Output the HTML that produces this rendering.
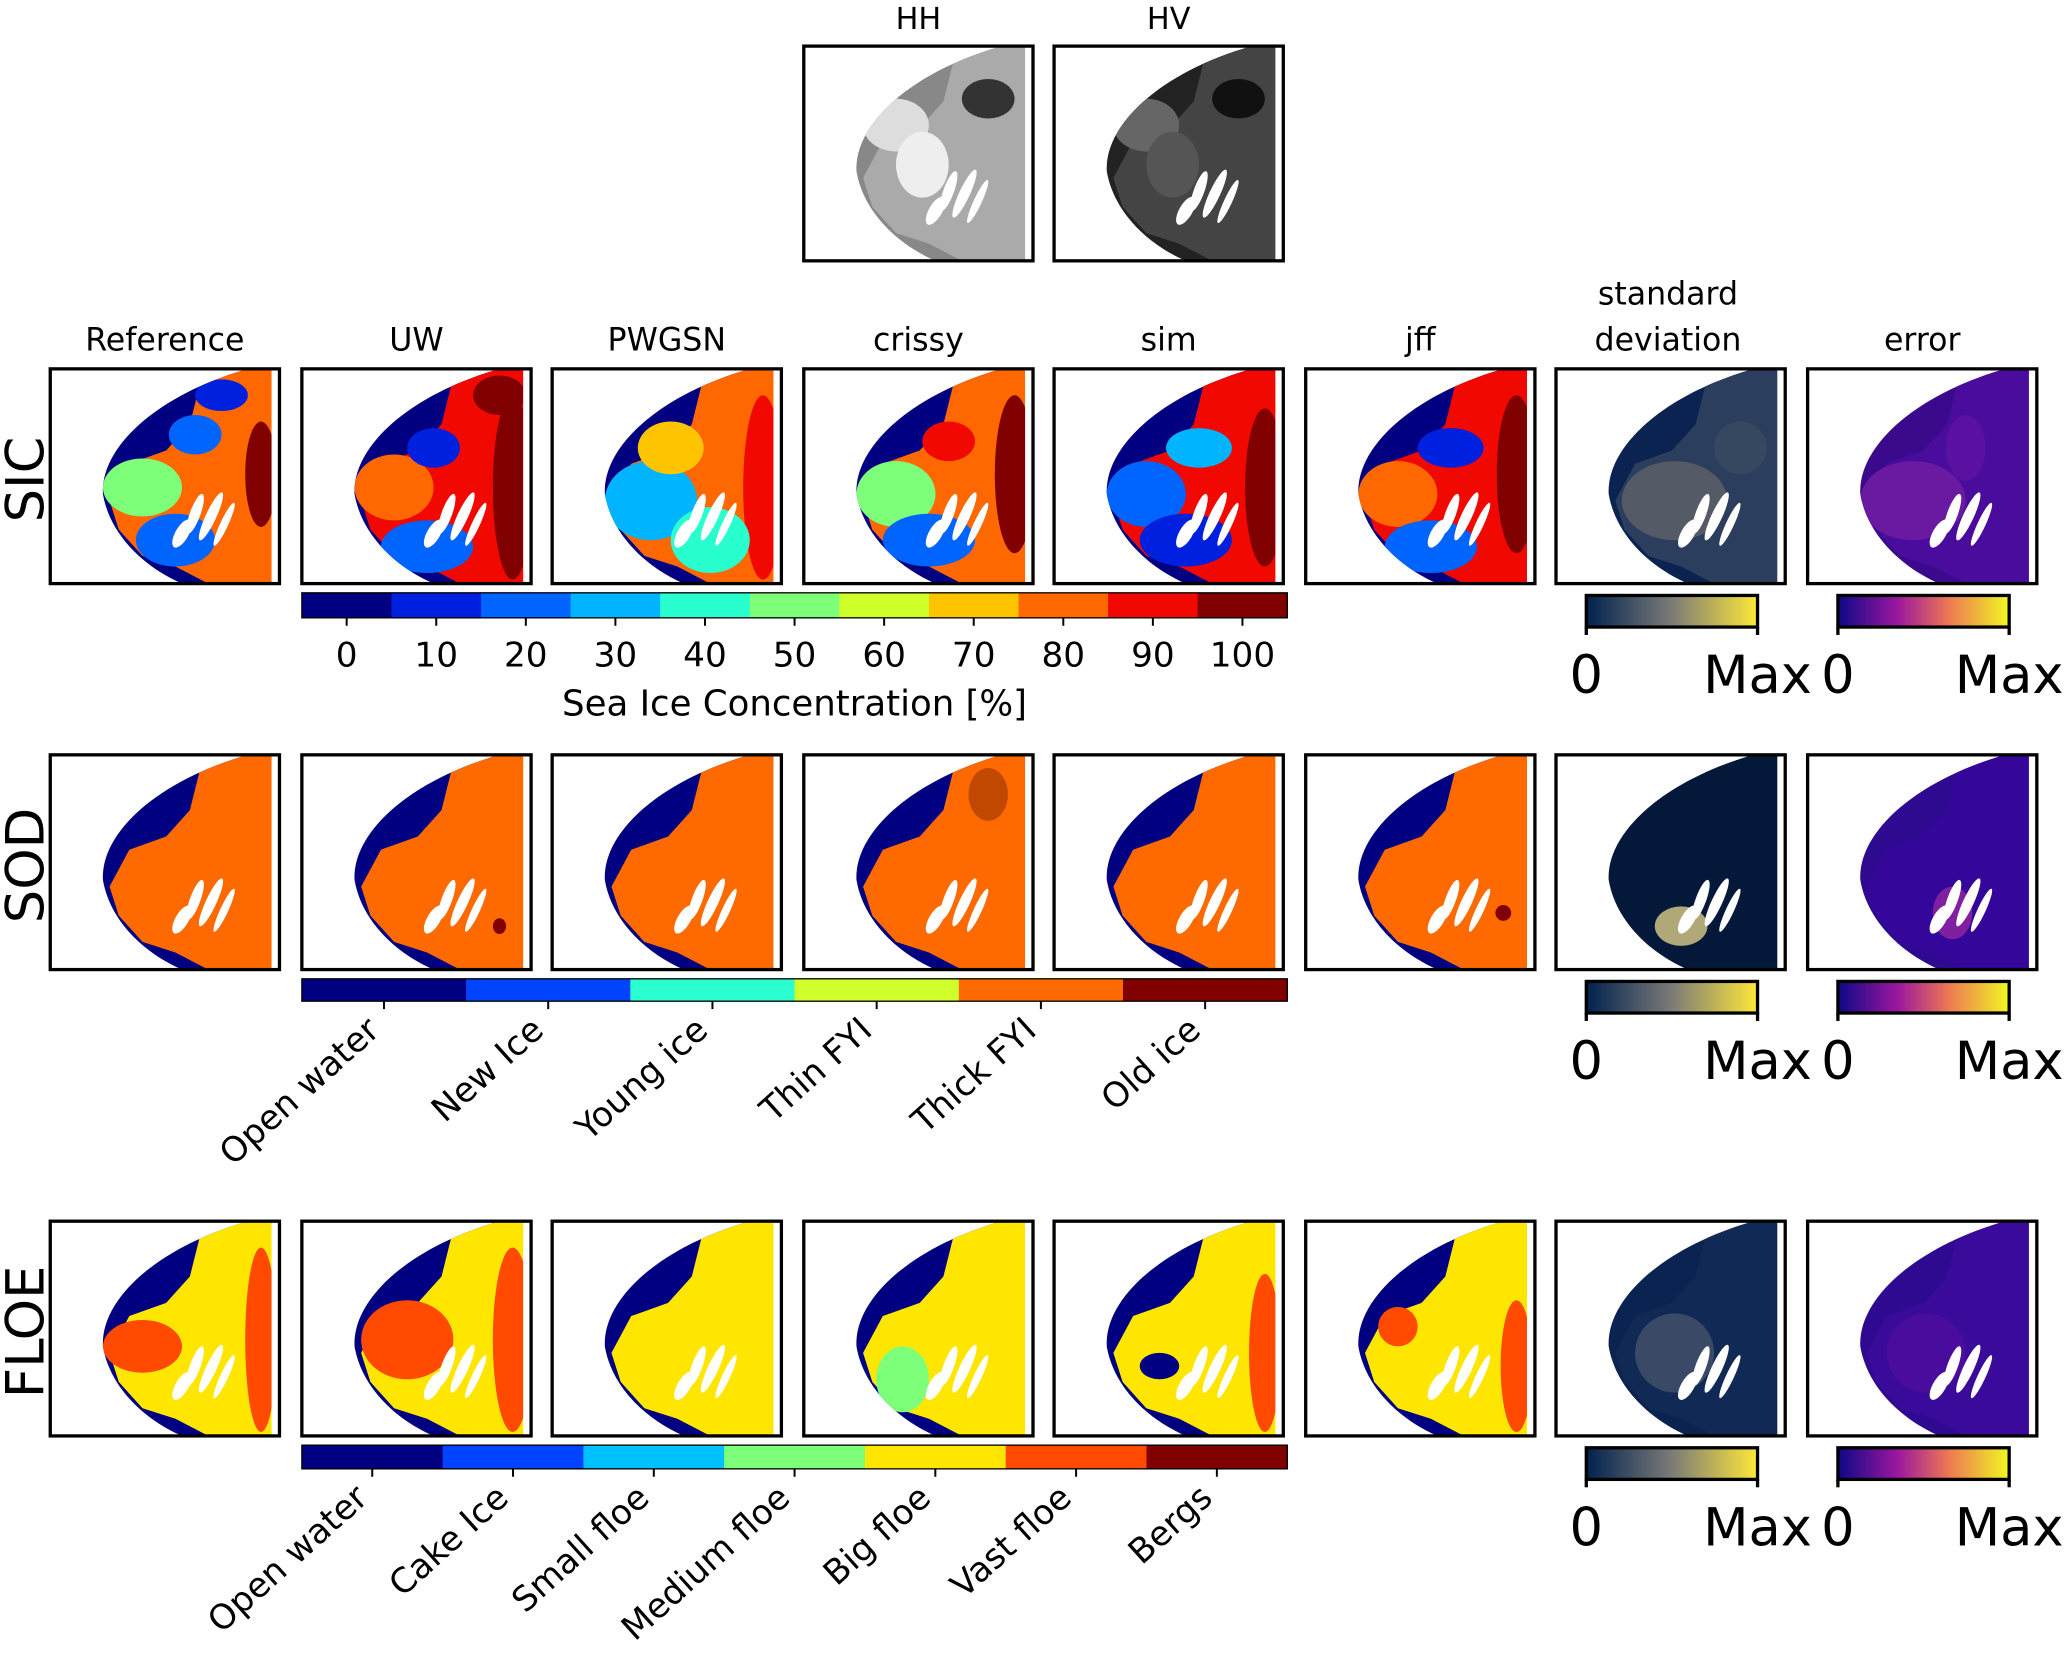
<!DOCTYPE html>
<html><head><meta charset="utf-8"><style>
html,body{margin:0;padding:0;background:#fff}
svg{display:block;font-family:"DejaVu Sans","Liberation Sans",sans-serif}
</style></head><body>
<svg id="fig" xmlns="http://www.w3.org/2000/svg" width="2066" height="1677" viewBox="0 0 1568 1273">
<defs>
<linearGradient id="cividis" x1="0" x2="1" y1="0" y2="0"><stop offset="0" stop-color="#00224e"/><stop offset="0.5" stop-color="#7c7b78"/><stop offset="1" stop-color="#fee838"/></linearGradient>
<linearGradient id="plasma" x1="0" x2="1" y1="0" y2="0"><stop offset="0" stop-color="#0d0887"/><stop offset="0.35" stop-color="#9c179e"/><stop offset="0.65" stop-color="#ed7953"/><stop offset="1" stop-color="#f0f921"/></linearGradient>
</defs>
<g id="content"></g>
</svg>
<script>
const sicTicks=['0','10','20','30','40','50','60','70','80','90','100'];
const sicColors=['#000080','#0020e0','#0064ff','#00b4ff','#29ffce','#7dff7a','#ceff29','#ffc400','#ff6800','#f10800','#800000'];
const sodCats=['Open water','New Ice','Young ice','Thin FYI','Thick FYI','Old ice'];
const sodColors=['#000080','#0044ff','#2bffd0','#d0ff2b','#ff6a00','#800000'];
const floeCats=['Open water','Cake Ice','Small floe','Medium floe','Big floe','Vast floe','Bergs'];
const floeColors=['#000080','#0044ff','#00c0ff','#7dff7a','#ffe600','#ff4a00','#800000'];
const colTitles=['Reference','UW','PWGSN','crissy','sim','jff','standard deviation','error'];
const rowLabels=['SIC','SOD','FLOE'];

const NS='http://www.w3.org/2000/svg';
const root=document.getElementById('content');
function el(tag,attrs,parent){const e=document.createElementNS(NS,tag);for(const k in attrs)e.setAttribute(k,attrs[k]);(parent||root).appendChild(e);return e;}
function txt(s,attrs,parent){const e=el('text',attrs,parent);e.textContent=s;return e;}

const colX=[38,229,419,610,800,991,1181,1372];
const rowY=[280,573,927];
const PW=174,PH=163;
const iceShape='M110,0 L174,0 L174,163 L120,163 L95,150 L70,142 L52,122 L45,100 L60,72 L88,62 L106,42 L114,10 Z';
const diskShape='M150,0 L174,0 L174,163 L100,163 C70,150 45,125 40,95 C38,60 80,20 150,0 Z';
let clipN=0;
function map(x,y,water,ice,blobs,name){
  const g=el('g',{transform:`translate(${x},${y})`});
  
  
  const id='c'+(clipN++);
  const cp=el('clipPath',{id:id},g);el('path',{d:diskShape},cp);
  el('rect',{x:0,y:0,width:PW,height:PH,fill:'#fff'},g);
  const inner=el('g',{'clip-path':`url(#${id})`},g);
  el('rect',{x:0,y:0,width:PW,height:PH,fill:water},inner);
  el('path',{d:iceShape,fill:ice},inner);
  blobs.forEach(b=>el('ellipse',{cx:b[0],cy:b[1],rx:b[2],ry:b[3],fill:b[4]},inner));
  [[110,110,4,16,20],[122,112,4,20,25],[132,118,3,18,25],[100,125,5,12,30]].forEach(s=>el('ellipse',{cx:s[0],cy:s[1],rx:s[2],ry:s[3],fill:'#fff',transform:`rotate(${s[4]} ${s[0]} ${s[1]})`},inner));
  el('rect',{x:168,y:0,width:6,height:PH,fill:'#fff'},g);
  el('rect',{x:0,y:0,width:PW,height:PH,fill:'none',stroke:'#000','stroke-width':2.5},g);
}
[['HH',610,'#aaa'],['HV',800,'#444']].forEach(([t,x,c],i)=>{
  txt(t,{x:x+87,y:22,'font-size':23,'text-anchor':'middle'});
  map(x,35,i?'#222':'#888',c,[[70,60,25,20,i?'#666':'#ddd'],[140,40,20,15,i?'#111':'#333'],[90,90,20,25,i?'#555':'#eee']],t.toLowerCase()+'-image');
});
colTitles.forEach((t,i)=>{
  if(i===6){
    txt('standard',{x:colX[i]+85,y:231,'font-size':24,'text-anchor':'middle'});
    txt('deviation',{x:colX[i]+85,y:266,'font-size':24,'text-anchor':'middle'});
  } else {
    const e=txt(t,{x:colX[i]+87,y:266,'font-size':24,'text-anchor':'middle'});
    
  }
});
rowLabels.forEach((t,r)=>{
  const cy=rowY[r]+84;
  const e=txt(t,{x:0,y:0,'font-size':40,'text-anchor':'middle',transform:`translate(33 ${cy}) rotate(-90)`});
  
});
const sic=[
 ['#000080',sicColors[8],[[70,90,30,22,sicColors[5]],[95,130,30,20,sicColors[2]],[110,50,20,15,sicColors[2]],[160,80,12,40,sicColors[10]],[130,20,20,12,sicColors[1]]]],
 ['#000080',sicColors[9],[[70,90,30,25,sicColors[8]],[95,135,35,20,sicColors[2]],[100,60,20,15,sicColors[1]],[160,90,15,70,sicColors[10]],[150,20,20,15,sicColors[10]]]],
 ['#000080',sicColors[8],[[75,100,35,30,sicColors[3]],[90,60,25,20,sicColors[7]],[160,90,15,70,sicColors[9]],[120,130,30,25,sicColors[4]]]],
 ['#000080',sicColors[8],[[70,95,30,25,sicColors[5]],[95,130,35,20,sicColors[2]],[110,55,20,15,sicColors[9]],[160,80,15,60,sicColors[10]]]],
 ['#000080',sicColors[9],[[70,95,30,25,sicColors[2]],[100,130,35,20,sicColors[1]],[110,60,25,15,sicColors[3]],[160,90,15,60,sicColors[10]]]],
 ['#000080',sicColors[9],[[70,95,30,25,sicColors[8]],[95,135,35,20,sicColors[2]],[110,60,25,15,sicColors[1]],[160,80,15,60,sicColors[10]]]],
 ['#0b2350','#2c3e5e',[[90,100,40,30,'#545a66'],[140,60,20,20,'#364860']]],
 ['#3b0a8c','#4a0c9c',[[80,100,40,30,'#6a1aa0'],[120,60,15,25,'#5a10a0']]]
];
const sod=[
 ['#000080',sodColors[4],[]],['#000080',sodColors[4],[[150,130,5,6,sodColors[5]]]],['#000080',sodColors[4],[]],
 ['#000080',sodColors[4],[[140,30,15,20,'#c04800']]],['#000080',sodColors[4],[]],['#000080',sodColors[4],[[150,120,6,6,sodColors[5]]]],
 ['#04183a','#04183a',[[95,130,20,15,'#b0a878']]],['#2d0a90','#34079a',[[110,120,15,20,'#8020a0']]]
];
const floe=[
 ['#000080',floeColors[4],[[70,95,30,20,floeColors[5]],[160,90,12,70,floeColors[5]]]],
 ['#000080',floeColors[4],[[80,90,35,30,floeColors[5]],[160,90,15,70,floeColors[5]]]],
 ['#000080',floeColors[4],[]],
 ['#000080',floeColors[4],[[75,120,20,25,floeColors[3]]]],
 ['#000080',floeColors[4],[[80,110,15,10,'#000080'],[160,100,12,60,floeColors[5]]]],
 ['#000080',floeColors[4],[[70,80,15,15,floeColors[5]],[160,110,12,50,floeColors[5]]]],
 ['#0b2350','#102a55',[[90,100,30,30,'#3a4a66']]],
 ['#2d0a90','#3a0a9a',[[90,100,30,30,'#4a0c9c']]]
];
[sic,sod,floe].forEach((rows,r)=>rows.forEach((p,c)=>map(colX[c],rowY[r],p[0],p[1],p[2],`${rowLabels[r].toLowerCase()}-map-${c}`)));

function cbar(y,h,colors,name){
  const w=748/colors.length;
  colors.forEach((c,i)=>{
    const r=el('rect',{x:229+i*w,y:y,width:w+0.5,height:h,fill:c});
    
    
    el('line',{x1:229+i*w+w/2,x2:229+i*w+w/2,y1:y+h,y2:y+h+6,stroke:'#000','stroke-width':1.5});
  });
  el('rect',{x:229,y:y,width:748,height:h,fill:'none',stroke:'#000','stroke-width':1});
  return w;
}
let w=cbar(450,19,sicColors,'sic-colorbar');
sicTicks.forEach((t,i)=>{const e=txt(t,{x:229+i*w+w/2,y:506,'font-size':26,'text-anchor':'middle'});});
txt('Sea Ice Concentration [%]',{x:603,y:543,'font-size':27,'text-anchor':'middle'});
w=cbar(743,17,sodColors,'sod-colorbar');
sodCats.forEach((t,i)=>{const x=229+i*w+w/2;const e=txt(t,{x:0,y:0,'font-size':26,'text-anchor':'end',transform:`translate(${x-2} ${784}) rotate(-42)`});});
w=cbar(1097,18,floeColors,'floe-colorbar');
floeCats.forEach((t,i)=>{const x=229+i*w+w/2;const e=txt(t,{x:0,y:0,'font-size':26,'text-anchor':'end',transform:`translate(${x-2} ${1139}) rotate(-42)`});});

[452,745,1099].forEach((y,r)=>{
  [[1204,'cividis','std'],[1395,'plasma','error']].forEach(([x,g,n])=>{
    const b=el('rect',{x:x,y:y,width:130,height:24,fill:`url(#${g})`,stroke:'#000','stroke-width':2.5});
    
    
    el('line',{x1:x,x2:x,y1:y+24,y2:y+30,stroke:'#000','stroke-width':2.5});
    el('line',{x1:x+130,x2:x+130,y1:y+24,y2:y+30,stroke:'#000','stroke-width':2.5});
    txt('0',{x:x,y:y+74,'font-size':40,'text-anchor':'middle'});
    txt('Max',{x:x+130,y:y+74,'font-size':40,'text-anchor':'middle'});
  });
});
</script>
</body></html>
